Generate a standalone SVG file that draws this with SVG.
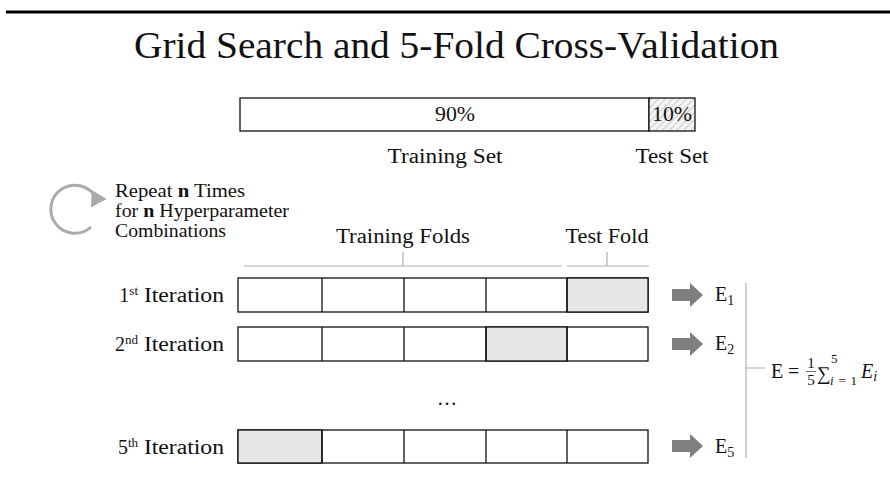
<svg xmlns="http://www.w3.org/2000/svg" width="890" height="478" viewBox="0 0 890 478">
<defs>
<style>
text{font-family:"Liberation Serif","Times New Roman",serif;fill:#111;}
.t20{font-size:20px;}
.t18{font-size:18px;}
.box{fill:#fff;stroke:#111;stroke-width:1.3;}
.sh{fill:#e6e6e6;stroke:#111;stroke-width:1.3;}
.div{stroke:#111;stroke-width:1.3;}
.brk{stroke:#b0b0b0;stroke-width:1.2;fill:none;}
.arr{fill:#7f7f7f;}
</style>
<pattern id="hatch" width="5" height="5" patternUnits="userSpaceOnUse" patternTransform="rotate(45)">
<rect width="5" height="5" fill="#f4f4f4"/>
<line x1="0" y1="0" x2="0" y2="5" stroke="#8a8a8a" stroke-width="0.8"/>
</pattern>
<marker id="cah" markerWidth="6" markerHeight="6" refX="2" refY="3" orient="auto" markerUnits="strokeWidth">
<path d="M0,0 L5,3 L0,6 Z" fill="#aaaaaa"/>
</marker>
</defs>
<rect width="890" height="478" fill="#fff"/>
<line x1="6" y1="12" x2="890" y2="12" stroke="#000" stroke-width="3"/>
<text x="134" y="58" font-size="38" textLength="645" lengthAdjust="spacingAndGlyphs">Grid Search and 5-Fold Cross-Validation</text>

<g id="dataset">
<rect x="240" y="98" width="409" height="33" class="box"/>
<rect x="649" y="98" width="46" height="33" fill="url(#hatch)" stroke="#111" stroke-width="1.3"/>
<text x="455" y="121" class="t20" text-anchor="middle" textLength="40" lengthAdjust="spacingAndGlyphs">90%</text>
<text x="672" y="121" class="t20" text-anchor="middle" textLength="40" lengthAdjust="spacingAndGlyphs">10%</text>
<text x="445" y="163" class="t20" text-anchor="middle" textLength="115" lengthAdjust="spacingAndGlyphs">Training Set</text>
<text x="672" y="163" class="t20" text-anchor="middle" textLength="73" lengthAdjust="spacingAndGlyphs">Test Set</text>
</g>

<g id="repeat">
<path d="M 96 198 A 24 24 0 1 0 91 227" fill="none" stroke="#aaaaaa" stroke-width="3" marker-start="url(#cah)"/>
<text x="115" y="197" class="t18" textLength="130" lengthAdjust="spacingAndGlyphs">Repeat <tspan font-weight="bold">n</tspan> Times</text>
<text x="115" y="217" class="t18" textLength="174" lengthAdjust="spacingAndGlyphs">for <tspan font-weight="bold">n</tspan> Hyperparameter</text>
<text x="115" y="237" class="t18" textLength="111" lengthAdjust="spacingAndGlyphs">Combinations</text>
</g>

<g id="fold-labels">
<text x="403" y="243" class="t20" text-anchor="middle" textLength="134" lengthAdjust="spacingAndGlyphs">Training Folds</text>
<text x="607" y="243" class="t20" text-anchor="middle" textLength="83" lengthAdjust="spacingAndGlyphs">Test Fold</text>
<path class="brk" d="M244 266 H562 M403 252 V266 M567 266 H649 M607 252 V266"/>
</g>

<g id="iter1">
<text x="224" y="302" class="t20" text-anchor="end">1<tspan font-size="13" dy="-7">st</tspan><tspan dy="7" textLength="86" lengthAdjust="spacingAndGlyphs"> Iteration</tspan></text>
<rect x="238" y="278" width="410" height="34" class="box"/>
<rect x="567" y="278" width="81" height="34" class="sh"/>
<path class="div" d="M322 278 V312 M404 278 V312 M486 278 V312 M567 278 V312"/>
</g>
<g id="iter2">
<text x="224" y="351" class="t20" text-anchor="end">2<tspan font-size="13" dy="-7">nd</tspan><tspan dy="7" textLength="86" lengthAdjust="spacingAndGlyphs"> Iteration</tspan></text>
<rect x="238" y="327" width="410" height="34" class="box"/>
<rect x="486" y="327" width="81" height="34" class="sh"/>
<path class="div" d="M322 327 V361 M404 327 V361 M486 327 V361 M567 327 V361"/>
</g>
<text x="447" y="405" class="t20" text-anchor="middle">…</text>
<g id="iter5">
<text x="224" y="454" class="t20" text-anchor="end">5<tspan font-size="13" dy="-7">th</tspan><tspan dy="7" textLength="86" lengthAdjust="spacingAndGlyphs"> Iteration</tspan></text>
<rect x="238" y="430" width="410" height="33" class="box"/>
<rect x="238" y="430" width="84" height="33" class="sh"/>
<path class="div" d="M322 430 V463 M404 430 V463 M486 430 V463 M567 430 V463"/>
</g>

<g id="connectors">
<path class="arr" d="M672 289 H690 V283 L703 295 L690 307 V301 H672 Z"/>
<path class="arr" d="M672 338 H690 V332 L703 344 L690 356 V350 H672 Z"/>
<path class="arr" d="M672 440 H690 V434 L703 446 L690 458 V452 H672 Z"/>
<path class="brk" d="M746 283 V458 M746 368 H765"/>
</g>

<g id="errors">
<text x="715" y="301" class="t20">E<tspan font-size="14" dy="4">1</tspan></text>
<text x="715" y="350" class="t20">E<tspan font-size="14" dy="4">2</tspan></text>
<text x="715" y="453" class="t20">E<tspan font-size="14" dy="4">5</tspan></text>
</g>

<g id="formula">
<text x="771" y="378" class="t20">E</text>
<text x="788" y="378" class="t20">=</text>
<text x="811" y="368" font-size="15" text-anchor="middle">1</text>
<line x1="806" y1="371.5" x2="816" y2="371.5" stroke="#111" stroke-width="0.6"/>
<text x="811" y="385" font-size="15" text-anchor="middle">5</text>
<text x="817" y="380" font-size="19" font-family="DejaVu Serif, serif">∑</text>
<text x="831" y="363" font-size="13">5</text>
<text x="830" y="385" font-size="13" textLength="27" lengthAdjust="spacing"><tspan font-style="italic">i</tspan>=1</text>
<text x="861" y="378" font-size="20" font-style="italic">E<tspan font-size="14" dy="3">i</tspan></text>
</g>
</svg>
